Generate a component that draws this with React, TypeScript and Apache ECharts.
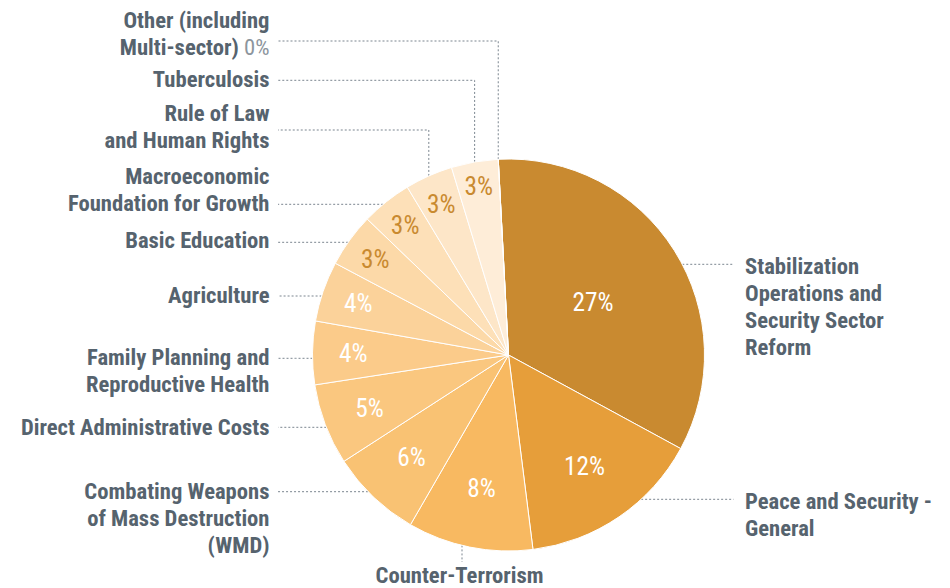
import React, { useEffect, useRef } from "react";
import * as echarts from "echarts";

// ---------- data ----------
const categories = [
  "Stabilization Operations and Security Sector Reform",
  "Peace and Security - General",
  "Counter-Terrorism",
  "Combating Weapons of Mass Destruction (WMD)",
  "Direct Administrative Costs",
  "Family Planning and Reproductive Health",
  "Agriculture",
  "Basic Education",
  "Macroeconomic Foundation for Growth",
  "Rule of Law and Human Rights",
  "Tuberculosis",
  "Other (including Multi-sector)",
];
// share of the drawn pie
const values = [33.75, 15.08, 10.33, 7.53, 6.69, 5.22, 4.97, 4.44, 4.17, 3.94, 3.86, 0];
// percentages printed on the chart
const shareLabels = ["27%", "12%", "8%", "6%", "5%", "4%", "4%", "3%", "3%", "3%", "3%", "0%"];
// label text as wrapped in the chart
const labelLines = [
  "Stabilization\nOperations and\nSecurity Sector\nReform",
  "Peace and Security -\nGeneral",
  "Counter-Terrorism",
  "Combating Weapons\nof Mass Destruction\n(WMD)",
  "Direct Administrative Costs",
  "Family Planning and\nReproductive Health",
  "Agriculture",
  "Basic Education",
  "Macroeconomic\nFoundation for Growth",
  "Rule of Law\nand Human Rights",
  "Tuberculosis",
  "Other (including\nMulti-sector) {l|0%}",
];

// ---------- styles / layout ----------
const colors = [
  "#C98A30", "#E69E3A", "#F8B961", "#F9C273", "#FAC77F", "#FBCB8A",
  "#FBD29A", "#FCD9A8", "#FDE0B8", "#FDE6C8", "#FEEDD8", "#FEF3E6",
];
const pctColors = [
  "#ffffff", "#ffffff", "#ffffff", "#ffffff", "#ffffff", "#ffffff",
  "#ffffff", "#C98A30", "#C98A30", "#C98A30", "#C98A30", "#C98A30",
];
const CX = 508.5;
const CY = 355;
const R = 196;
const START = 93;
const LH = 27;
const side = ["r", "r", "b", "l", "l", "l", "l", "l", "l", "l", "l", "l"];
const labelLH = [LH, LH, 20, LH, LH, LH, LH, LH, LH, LH, LH, LH];
const firstLineY = [266, 501.5, 575, 491.7, 427, 357.3, 295, 240, 176.3, 113.3, 79, 20.5];
const leaderY = [264.3, 499.3, 562, 491.7, 427.3, 358.3, 296, 242.3, 204.3, 130, 80.3, 41];
const leaderKind = ["h", "h", "d", "h", "h", "h", "h", "h", "h", "v", "v", "v"];
const pctRadius = [99.8, 134.7, 136, 140.8, 148.7, 155.2, 158.8, 164.4, 165.7, 165.2, 171.8, 0];
const LEFT_TEXT_X = 269.5;
const LEFT_LINE_X = 278;
const RIGHT_TEXT_X = 745;
const RIGHT_LINE_X = 733.5;
const BOTTOM_TEXT_X = 459.5;
const BOTTOM_LINE_X = 462;

const total = values.reduce((a, b) => a + b, 0);
function midAngle(i: number) {
  let cum = 0;
  for (let j = 0; j < i; j++) cum += values[j];
  const frac = (cum + values[i] / 2) / total;
  return ((START - frac * 360) * Math.PI) / 180;
}
function polar(a: number, r: number): [number, number] {
  return [CX + r * Math.cos(a), CY - r * Math.sin(a)];
}

function pickFont() {
  const ctx = document.createElement("canvas").getContext("2d")!;
  const test = "Direct Administrative Costs";
  const w = (f: string) => {
    ctx.font = f;
    return ctx.measureText(test).width;
  };
  const cands = [
    { family: '"Roboto Condensed"', weight: "bold" },
    { family: '"Liberation Sans Narrow"', weight: "bold" },
    { family: '"Arial Narrow"', weight: "bold" },
  ];
  for (const c of cands) {
    const a = w(`${c.weight} 100px ${c.family}, monospace`);
    const b = w(`${c.weight} 100px ${c.family}, serif`);
    const m = w(`${c.weight} 100px monospace`);
    if (Math.abs(a - b) < 0.01 && Math.abs(a - m) > 0.5) {
      return { family: c.family.replace(/"/g, ""), weight: c.weight, size: (248.6 / a) * 100 };
    }
  }
  const a = w(`500 100px Roboto, sans-serif`);
  return { family: "Roboto", weight: "500", size: (248.6 / a) * 100 };
}

export default function App() {
  const ref = useRef<HTMLDivElement>(null);
  useEffect(() => {
    if (!ref.current) return;
    const font = pickFont();
    const pctSize = font.size * 1.12;
    const chart = echarts.init(ref.current, undefined, { renderer: "svg" });
    const option: any = {
      animation: false,
      backgroundColor: "#ffffff",
      series: [
        {
          type: "pie",
          z: 1,
          silent: true,
          center: [CX, CY],
          radius: R,
          startAngle: START,
          clockwise: true,
          avoidLabelOverlap: false,
          emphasis: { disabled: true },
          itemStyle: { color: "rgba(0,0,0,0)", borderWidth: 0 },
          data: categories.map((c, i) => ({
            name: c,
            value: values[i],
            label: { lineHeight: labelLH[i] },
          })),
          label: {
            show: true,
            position: "outside",
            formatter: (p: any) => labelLines[p.dataIndex],
            color: "#56636E",
            fontFamily: font.family,
            fontWeight: font.weight,
            fontSize: font.size,
            lineHeight: LH,
            rich: {
              l: {
                color: "#8C959D",
                fontFamily: font.family,
                fontWeight: "normal",
                fontSize: font.size,
                lineHeight: LH,
              },
            },
          },
          labelLine: {
            show: true,
            length: 10,
            length2: 10,
            lineStyle: { color: "#7B858F", width: 1, type: [2, 2] },
          },
          labelLayout: (p: any) => {
            const i = p.dataIndex;
            const s = side[i];
            const top = firstLineY[i] - labelLH[i] / 2;
            let x = LEFT_TEXT_X;
            let align = "right";
            if (s === "r") {
              x = RIGHT_TEXT_X;
              align = "left";
            } else if (s === "b") {
              x = BOTTOM_TEXT_X;
              align = "center";
            }
            const ly = leaderY[i];
            let pts: number[][];
            if (leaderKind[i] === "h") {
              const dx = Math.sqrt(R * R - (ly - CY) * (ly - CY));
              const ex = s === "l" ? CX - dx : CX + dx;
              const lx = s === "l" ? LEFT_LINE_X : RIGHT_LINE_X;
              pts = [[ex, ly], [(ex + lx) / 2, ly], [lx, ly]];
            } else if (leaderKind[i] === "v") {
              const [ax, ay] = polar(midAngle(i), R);
              pts = [[ax, ay], [ax, ly], [LEFT_LINE_X, ly]];
            } else {
              const ey = CY + Math.sqrt(R * R - (BOTTOM_LINE_X - CX) * (BOTTOM_LINE_X - CX));
              pts = [[BOTTOM_LINE_X, ey], [BOTTOM_LINE_X, (ey + ly) / 2], [BOTTOM_LINE_X, ly]];
            }
            return { x, y: top, align, verticalAlign: "top", labelLinePoints: pts };
          },
        },
        {
          type: "pie",
          z: 2,
          silent: true,
          center: [CX, CY],
          radius: R,
          startAngle: START,
          clockwise: true,
          avoidLabelOverlap: false,
          emphasis: { disabled: true },
          itemStyle: { borderColor: "#ffffff", borderWidth: 1 },
          data: categories.map((c, i) => ({
            name: c,
            value: values[i],
            itemStyle: { color: colors[i] },
            label: { show: values[i] > 0, color: pctColors[i] },
          })),
          label: {
            position: "inside",
            formatter: (p: any) => shareLabels[p.dataIndex],
            fontFamily: font.family,
            fontWeight: "normal",
            fontSize: pctSize,
          },
          labelLine: { show: false },
          labelLayout: (p: any) => {
            const i = p.dataIndex;
            const [x, y] = polar(midAngle(i), pctRadius[i]);
            return { x, y, align: "center", verticalAlign: "middle" };
          },
        },
      ],
    };
    chart.setOption(option);
    return () => chart.dispose();
  }, []);
  return (
    <div
      ref={ref}
      style={{ position: "absolute", left: 0, top: 0, width: 950, height: 588 }}
    />
  );
}
